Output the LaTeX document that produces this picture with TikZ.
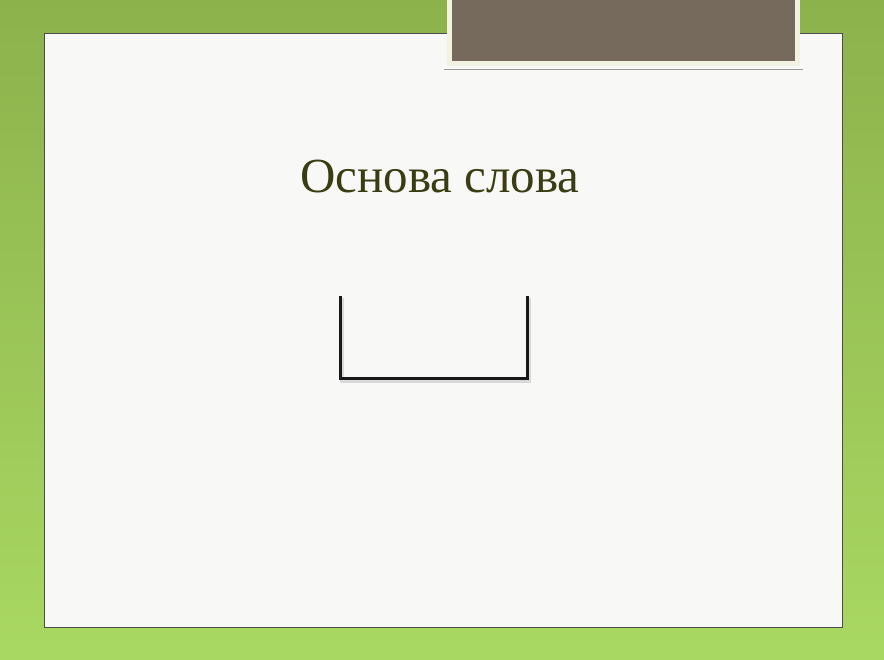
\documentclass[tikz,border=0pt]{standalone}
\usepackage{fontspec}
\setmainfont{Liberation Serif}
\usetikzlibrary{positioning}
\definecolor{leafdark}{HTML}{8CB24C}
\definecolor{leaflight}{HTML}{A9D862}
\definecolor{tabgray}{HTML}{756A5C}
\definecolor{tabrim}{HTML}{F1F2E2}
\definecolor{paper}{HTML}{F8F8F6}
\definecolor{olive}{HTML}{3A3C12}
\tikzset{
  panel/.style={draw=black!70,line width=0.8pt,fill=paper,inner sep=0pt,anchor=north west},
  tab/.style={draw=tabrim,line width=5pt,fill=tabgray,inner sep=0pt,anchor=north west},
  stem/.style={line width=3pt,line cap=rect,black!90}
}
\begin{document}
\begin{tikzpicture}[x=1pt,y=1pt]
    \useasboundingbox (0,0) rectangle (884,-660);
    %% Background
    \shade[top color=leafdark,bottom color=leaflight] (0,0) rectangle (884,-660);
    \node[panel,minimum width=798pt,minimum height=594pt] (page) at (44,-33) {};
    \node[tab,minimum width=348pt,minimum height=66pt] (tab) at (447,5) {};
    \draw[black!40,line width=0.6pt] ([shift={(-3,-3)}]tab.south west) -- ([shift={(3,-3)}]tab.south east);
    %% Title
    \node[text=olive,anchor=base,font=\fontsize{49}{55}\selectfont] (title) at (440,-193) {Основа слова};
    %% Stem sign
    \coordinate (tl) at (340,-298);
    \coordinate[below=81pt of tl] (bl);
    \coordinate[right=187pt of bl] (br);
    \coordinate[above=81pt of br] (tr);
    \draw[stem,black!15,line width=4pt] ([shift={(2,-2)}]tl) -- ([shift={(2,-2)}]bl) -- ([shift={(2,-2)}]br) -- ([shift={(2,-2)}]tr);
    \draw[stem] (tl) -- (bl) -- (br) -- (tr);
  \end{tikzpicture}
\end{document}
